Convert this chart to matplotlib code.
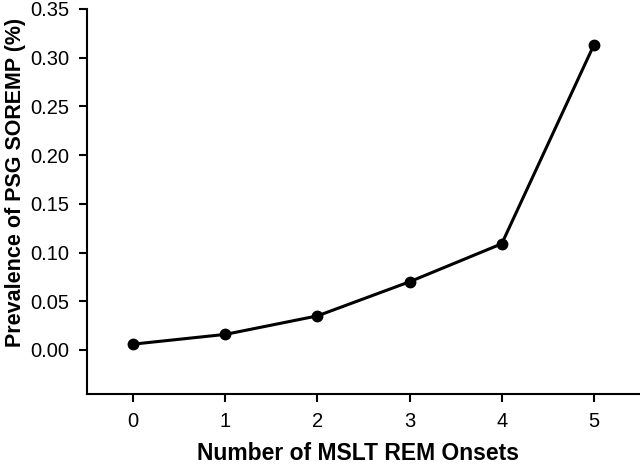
import matplotlib
matplotlib.use("Agg")
import matplotlib.pyplot as plt

plt.rcParams['font.family'] = ['Liberation Sans', 'DejaVu Sans']

onsets = [0, 1, 2, 3, 4, 5]
prevalence = [0.006, 0.016, 0.035, 0.070, 0.109, 0.313]
yticks = [0.00, 0.05, 0.10, 0.15, 0.20, 0.25, 0.30, 0.35]

fig = plt.figure(figsize=(6.4, 4.65), dpi=100)
ax = fig.add_axes([0.136, 0.153, 0.864, 0.828])
ax.plot(onsets, prevalence, color='black', lw=2.2, marker='o', ms=7.5)

ax.set_xlim(-0.5, 5.5)
ax.set_ylim(-0.045, 0.35)
ax.set_xticks(onsets)
ax.set_yticks(yticks)
ax.set_yticklabels(['%.2f' % v for v in yticks])
ax.spines['top'].set_visible(False)
ax.spines['right'].set_visible(False)
ax.spines['left'].set_linewidth(1.5)
ax.spines['bottom'].set_linewidth(1.5)
ax.tick_params(labelsize=14.5, width=1.5, length=6, pad=7)
ax.set_xlabel('Number of MSLT REM Onsets', fontsize=16.5, fontweight='bold')
ax.set_ylabel('Prevalence of PSG SOREMP (%)', fontsize=15.5, fontweight='bold')
ax.xaxis.set_label_coords(0.49, -0.155)
ax.yaxis.set_label_coords(-0.13, 0.55)
ax.xaxis.label.set_va('center')
ax.yaxis.label.set_va('center')

fig.savefig('out.png', dpi=100)
